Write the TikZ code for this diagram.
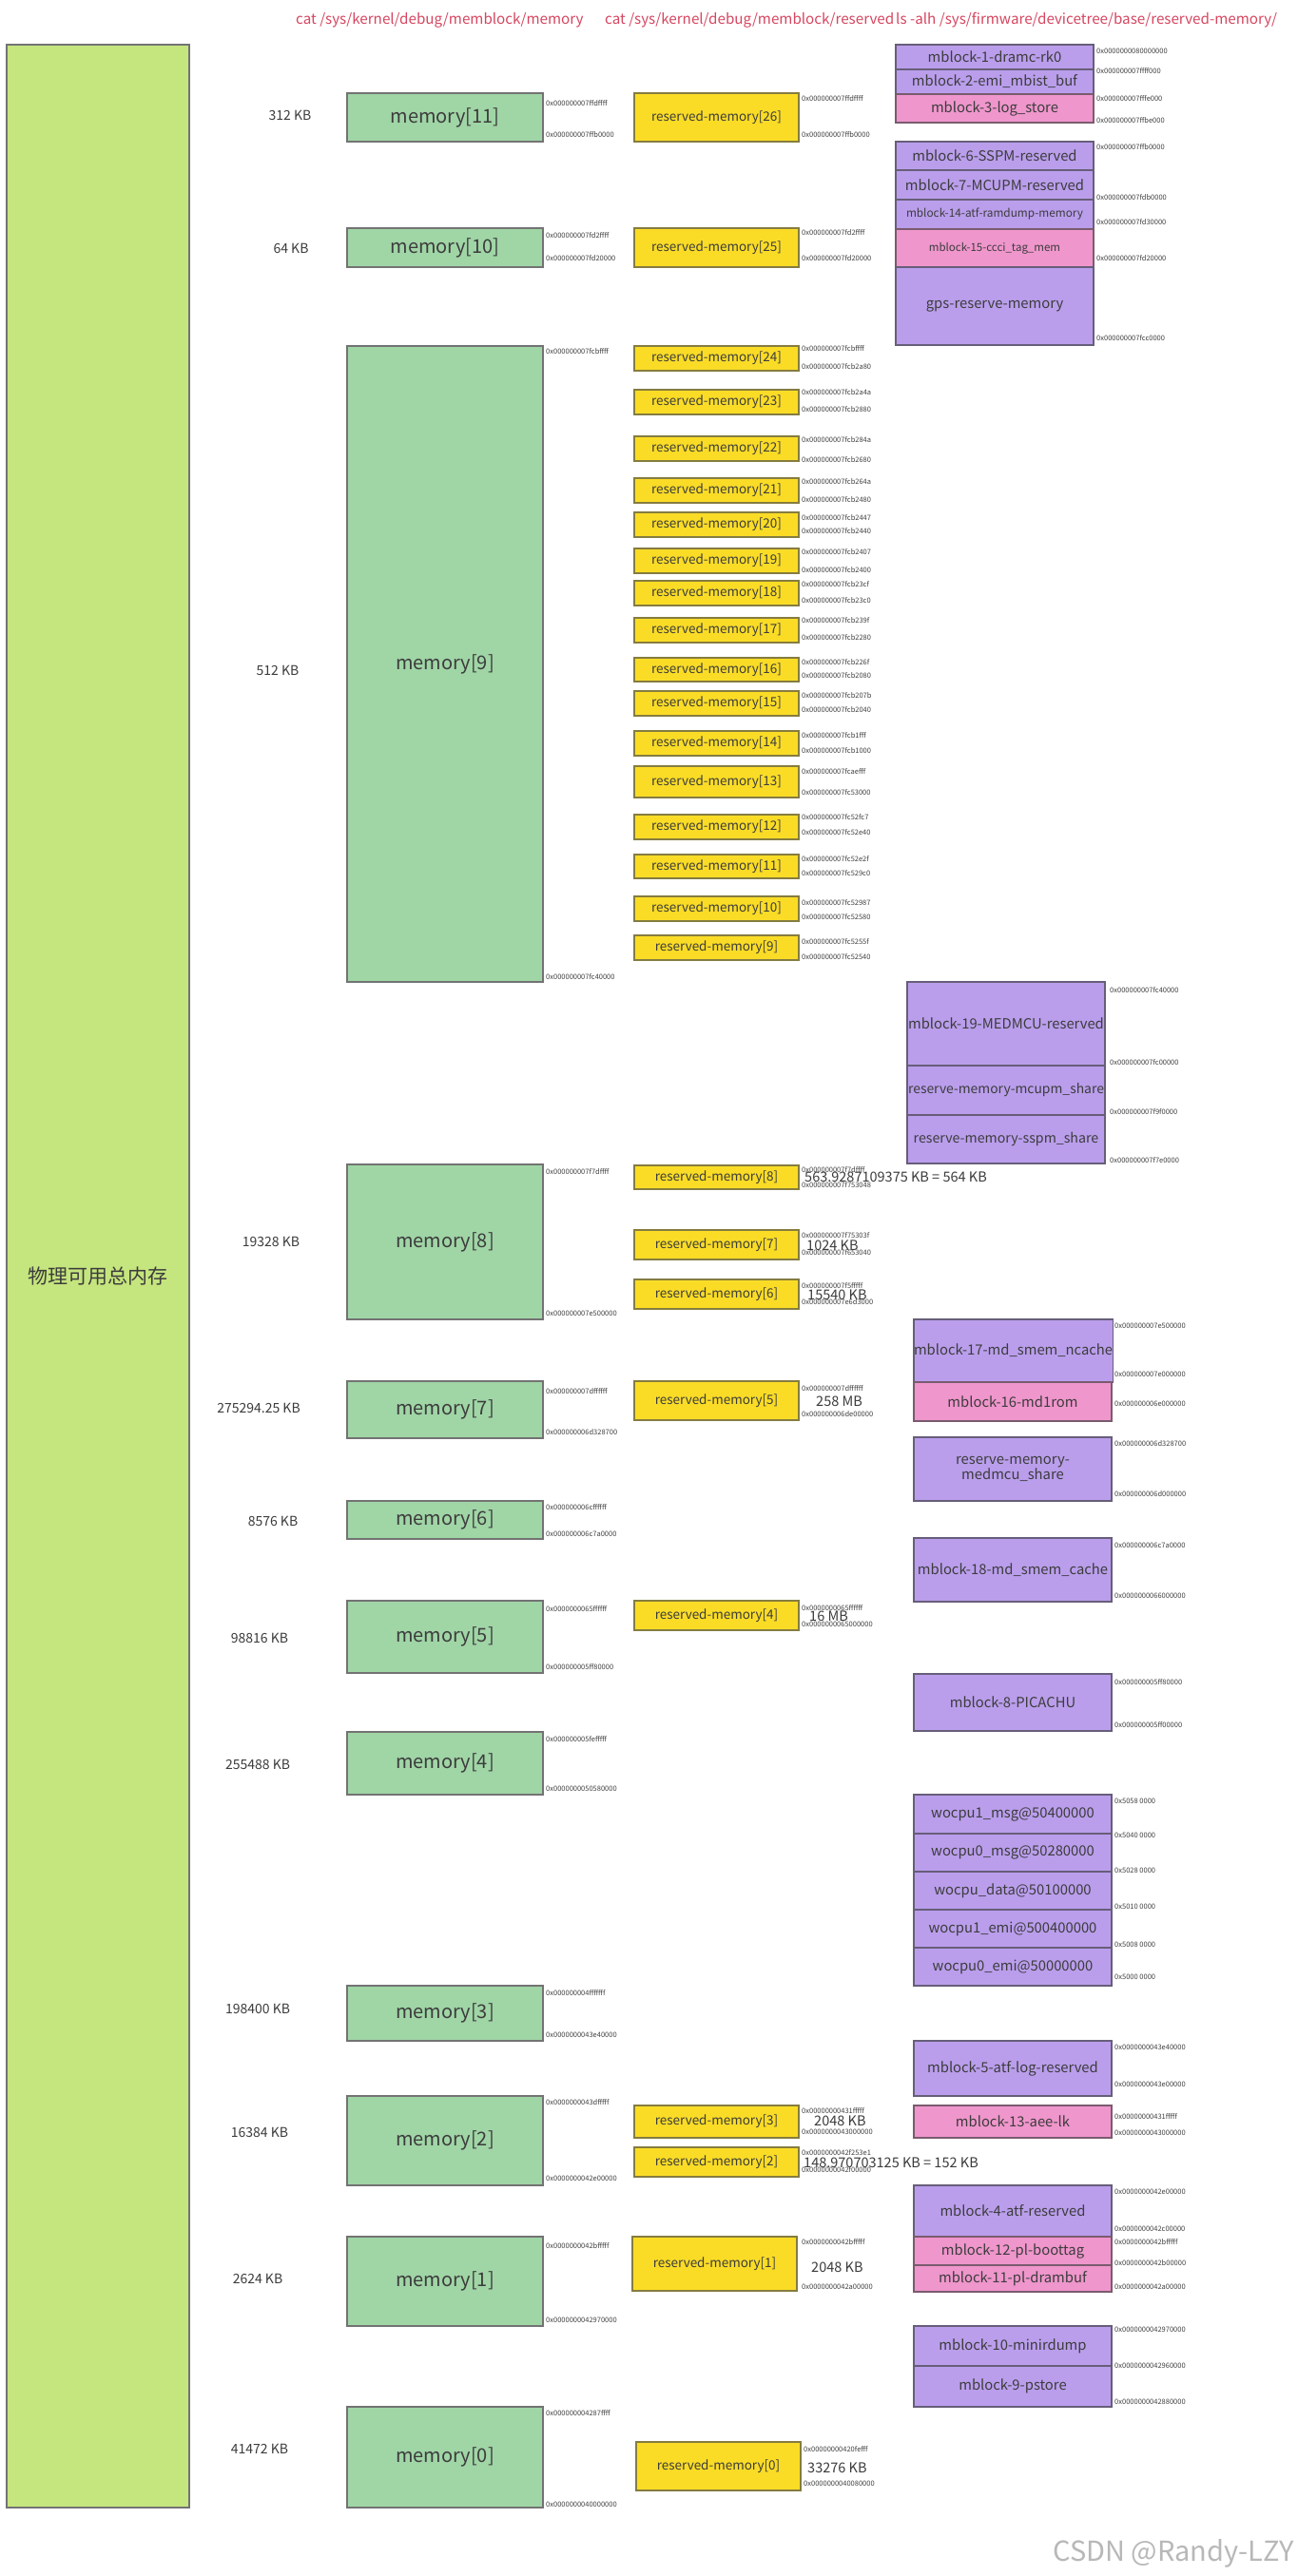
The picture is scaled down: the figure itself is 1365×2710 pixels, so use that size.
\documentclass[tikz,border=0pt]{standalone}
\usepackage{fontspec}
\setmainfont{Noto Sans CJK SC}
\definecolor{bigg}{RGB}{197,229,126}
\definecolor{memg}{RGB}{160,213,166}
\definecolor{resy}{RGB}{250,220,38}
\definecolor{purp}{RGB}{186,158,236}
\definecolor{pinkk}{RGB}{239,150,204}
\definecolor{hdr}{RGB}{214,70,96}
\definecolor{txt}{RGB}{60,60,60}
\newcounter{adr}
\newcommand\fs[1]{\fontsize{#1}{#1}\selectfont}
\newcommand\bx[7]{\node[#1,anchor=north west,minimum width={(#5-#3)*1pt},minimum height={(#6-#4)*1pt}] (#2) at (#3,#4) {#7};}
\newcommand\ad[3]{\stepcounter{adr}\node[addr] (a\theadr) at (#1,#2) {#3};}
\begin{document}
\begin{tikzpicture}[x=1pt,y=-1pt,
  base/.style={inner sep=0pt,outer sep=0pt,line width=1.3pt,text=txt,align=center},
  bigbox/.style={base,fill=bigg,draw=black!55,font=\fs{21}},
  membox/.style={base,fill=memg,draw=black!55,font=\fs{20}},
  resbox/.style={base,fill=resy,draw=black!45!resy!60!gray,font=\fs{13.5}},
  purbox/.style={base,fill=purp,draw=black!50!purp!70!gray,font=\fs{14.8}},
  pinkbox/.style={base,fill=pinkk,draw=black!50!pinkk!70!gray,font=\fs{14.8}},
  addr/.style={anchor=west,inner sep=0pt,font=\fs{7.5},text=black!75},
  kb/.style={inner sep=0pt,font=\fs{14},text=txt},
  sz/.style={anchor=west,inner sep=0pt,font=\fs{14.5},text=txt},
  head/.style={anchor=west,inner sep=0pt,font=\fs{15.2},text=hdr}]
\useasboundingbox (0,0) rectangle (1365,2710);
\fill[white] (0,0) rectangle (1365,2710);
% headers
\node[head] (h1) at (311,21) {cat /sys/kernel/debug/memblock/memory};
\node[head] (h2) at (636,21) {cat /sys/kernel/debug/memblock/reserved};
\node[head] (h3) at (942,21) {ls -alh /sys/firmware/devicetree/base/reserved-memory/};
% total
\bx{bigbox}{total}{7}{47}{199}{2638}{物理可用总内存}
% KB labels
\node[kb] (k11) at (305,121) {312 KB};
\node[kb] (k10) at (306,261) {64 KB};
\node[kb] (k9) at (292,705) {512 KB};
\node[kb] (k8) at (285,1306) {19328 KB};
\node[kb] (k7) at (272,1481) {275294.25 KB};
\node[kb] (k6) at (287,1600) {8576 KB};
\node[kb] (k5) at (273,1723) {98816 KB};
\node[kb] (k4) at (271,1856) {255488 KB};
\node[kb] (k3) at (271,2113) {198400 KB};
\node[kb] (k2) at (273,2243) {16384 KB};
\node[kb] (k1) at (271,2397) {2624 KB};
\node[kb] (k0) at (273,2576) {41472 KB};
% memory boxes
\bx{membox}{m11}{365}{98}{571}{149}{memory[11]}
\bx{membox}{m10}{365}{240}{571}{281}{memory[10]}
\bx{membox}{m9}{365}{364}{571}{1033}{memory[9]}
\bx{membox}{m8}{365}{1225}{571}{1388}{memory[8]}
\bx{membox}{m7}{365}{1453}{571}{1513}{memory[7]}
\bx{membox}{m6}{365}{1579}{571}{1619}{memory[6]}
\bx{membox}{m5}{365}{1684}{571}{1760}{memory[5]}
\bx{membox}{m4}{365}{1822}{571}{1888}{memory[4]}
\bx{membox}{m3}{365}{2089}{571}{2147}{memory[3]}
\bx{membox}{m2}{365}{2205}{571}{2299}{memory[2]}
\bx{membox}{m1}{365}{2353}{571}{2447}{memory[1]}
\bx{membox}{m0}{365}{2532}{571}{2638}{memory[0]}
% memory addresses
\ad{574}{109}{0x000000007ffdffff}\ad{574}{142}{0x000000007ffb0000}
\ad{574}{248}{0x000000007fd2ffff}\ad{574}{272}{0x000000007fd20000}
\ad{574}{370}{0x000000007fcbffff}\ad{574}{1027}{0x000000007fc40000}
\ad{574}{1232}{0x000000007f7dffff}\ad{574}{1382}{0x000000007e500000}
\ad{574}{1463}{0x000000007dffffff}\ad{574}{1507}{0x000000006d328700}
\ad{574}{1585}{0x000000006cffffff}\ad{574}{1614}{0x000000006c7a0000}
\ad{574}{1692}{0x0000000065ffffff}\ad{574}{1753}{0x000000005ff80000}
\ad{574}{1829}{0x000000005fefffff}\ad{574}{1882}{0x0000000050580000}
\ad{574}{2096}{0x000000004fffffff}\ad{574}{2141}{0x0000000043e40000}
\ad{574}{2211}{0x0000000043dfffff}\ad{574}{2292}{0x0000000042e00000}
\ad{574}{2362}{0x0000000042bfffff}\ad{574}{2441}{0x0000000042970000}
\ad{574}{2538}{0x000000004287ffff}\ad{574}{2635}{0x0000000040000000}
% reserved boxes
\bx{resbox}{r26}{667}{98}{840}{149}{reserved-memory[26]}
\bx{resbox}{r25}{667}{240}{840}{281}{reserved-memory[25]}
\bx{resbox}{r24}{667}{364}{840}{390}{reserved-memory[24]}
\bx{resbox}{r23}{667}{410}{840}{436}{reserved-memory[23]}
\bx{resbox}{r22}{667}{459}{840}{485}{reserved-memory[22]}
\bx{resbox}{r21}{667}{503}{840}{529}{reserved-memory[21]}
\bx{resbox}{r20}{667}{539}{840}{565}{reserved-memory[20]}
\bx{resbox}{r19}{667}{577}{840}{603}{reserved-memory[19]}
\bx{resbox}{r18}{667}{611}{840}{637}{reserved-memory[18]}
\bx{resbox}{r17}{667}{650}{840}{676}{reserved-memory[17]}
\bx{resbox}{r16}{667}{692}{840}{717}{reserved-memory[16]}
\bx{resbox}{r15}{667}{727}{840}{753}{reserved-memory[15]}
\bx{resbox}{r14}{667}{769}{840}{795}{reserved-memory[14]}
\bx{resbox}{r13}{667}{806}{840}{839}{reserved-memory[13]}
\bx{resbox}{r12}{667}{857}{840}{883}{reserved-memory[12]}
\bx{resbox}{r11}{667}{899}{840}{924}{reserved-memory[11]}
\bx{resbox}{r10}{667}{943}{840}{969}{reserved-memory[10]}
\bx{resbox}{r9}{667}{984}{840}{1010}{reserved-memory[9]}
\bx{resbox}{r8}{667}{1226}{840}{1251}{reserved-memory[8]}
\bx{resbox}{r7}{667}{1294}{840}{1325}{reserved-memory[7]}
\bx{resbox}{r6}{667}{1346}{840}{1377}{reserved-memory[6]}
\bx{resbox}{r5}{667}{1453}{840}{1494}{reserved-memory[5]}
\bx{resbox}{r4}{667}{1684}{840}{1715}{reserved-memory[4]}
\bx{resbox}{r3}{667}{2215}{840}{2249}{reserved-memory[3]}
\bx{resbox}{r2}{667}{2259}{840}{2290}{reserved-memory[2]}
\bx{resbox}{r1}{665}{2353}{838}{2410}{reserved-memory[1]}
\bx{resbox}{r0}{669}{2569}{842}{2620}{reserved-memory[0]}
% reserved addresses
\ad{843}{104}{0x000000007ffdffff}\ad{843}{142}{0x000000007ffb0000}
\ad{843}{245}{0x000000007fd2ffff}\ad{843}{272}{0x000000007fd20000}
\ad{843}{367}{0x000000007fcbffff}\ad{843}{386}{0x000000007fcb2a80}
\ad{843}{413}{0x000000007fcb2a4a}\ad{843}{431}{0x000000007fcb2880}
\ad{843}{463}{0x000000007fcb284a}\ad{843}{484}{0x000000007fcb2680}
\ad{843}{507}{0x000000007fcb264a}\ad{843}{526}{0x000000007fcb2480}
\ad{843}{545}{0x000000007fcb2447}\ad{843}{559}{0x000000007fcb2440}
\ad{843}{581}{0x000000007fcb2407}\ad{843}{600}{0x000000007fcb2400}
\ad{843}{615}{0x000000007fcb23cf}\ad{843}{632}{0x000000007fcb23c0}
\ad{843}{653}{0x000000007fcb239f}\ad{843}{671}{0x000000007fcb2280}
\ad{843}{697}{0x000000007fcb226f}\ad{843}{711}{0x000000007fcb2080}
\ad{843}{732}{0x000000007fcb207b}\ad{843}{747}{0x000000007fcb2040}
\ad{843}{774}{0x000000007fcb1fff}\ad{843}{790}{0x000000007fcb1000}
\ad{843}{812}{0x000000007fcaefff}\ad{843}{834}{0x000000007fc53000}
\ad{843}{860}{0x000000007fc52fc7}\ad{843}{876}{0x000000007fc52e40}
\ad{843}{903}{0x000000007fc52e2f}\ad{843}{918}{0x000000007fc529c0}
\ad{843}{949}{0x000000007fc52987}\ad{843}{964}{0x000000007fc52580}
\ad{843}{990}{0x000000007fc5255f}\ad{843}{1006}{0x000000007fc52540}
\ad{843}{1230}{0x000000007f7dffff}\ad{843}{1246}{0x000000007f753048}
\ad{843}{1299}{0x000000007f75303f}\ad{843}{1317}{0x000000007f653040}
\ad{843}{1352}{0x000000007f5fffff}\ad{843}{1370}{0x000000007e6d3000}
\ad{843}{1460}{0x000000007dffffff}\ad{843}{1488}{0x000000006de00000}
\ad{843}{1691}{0x0000000065ffffff}\ad{843}{1709}{0x0000000065000000}
\ad{843}{2220}{0x00000000431fffff}\ad{843}{2243}{0x0000000043000000}
\ad{843}{2264}{0x0000000042f253e1}\ad{843}{2282}{0x0000000042f00000}
\ad{843}{2358}{0x0000000042bfffff}\ad{843}{2406}{0x0000000042a00000}
\ad{845}{2576}{0x00000000420fefff}\ad{845}{2613}{0x0000000040080000}
% sizes
\node[sz] (s8) at (846,1238) {563.9287109375 KB = 564 KB};
\node[sz] (s7) at (848,1310) {1024 KB};
\node[sz] (s6) at (849,1362) {15540 KB};
\node[sz] (s5) at (858,1474) {258 MB};
\node[sz] (s4) at (851,1700) {16 MB};
\node[sz] (s3) at (856,2231) {2048 KB};
\node[sz] (s2) at (845,2275) {148.970703125 KB = 152 KB};
\node[sz] (s1) at (853,2385) {2048 KB};
\node[sz] (s0) at (849,2596) {33276 KB};
% purple group A
\bx{purbox}{p1}{942}{47}{1150}{73}{mblock-1-dramc-rk0}
\bx{purbox}{p2}{942}{73}{1150}{99}{mblock-2-emi\_mbist\_buf}
\bx{pinkbox}{p3}{942}{99}{1150}{129}{mblock-3-log\_store}
\ad{1153}{54}{0x0000000080000000}\ad{1153}{75}{0x000000007ffff000}
\ad{1153}{104}{0x000000007fffe000}\ad{1153}{127}{0x000000007ffbe000}
% group B
\bx{purbox}{p6}{942}{149}{1150}{179}{mblock-6-SSPM-reserved}
\bx{purbox}{p7}{942}{179}{1150}{210}{mblock-7-MCUPM-reserved}
\bx{purbox}{p14}{942}{210}{1150}{241}{\fs{11.8}mblock-14-atf-ramdump-memory}
\bx{pinkbox}{p15}{942}{241}{1150}{281}{\fs{11.5}mblock-15-ccci\_tag\_mem}
\bx{purbox}{pgps}{942}{281}{1150}{363}{gps-reserve-memory}
\ad{1153}{155}{0x000000007ffb0000}\ad{1153}{208}{0x000000007fdb0000}
\ad{1153}{234}{0x000000007fd30000}\ad{1153}{272}{0x000000007fd20000}
\ad{1153}{356}{0x000000007fcc0000}
% group C
\bx{purbox}{p19}{954}{1033}{1162}{1121}{mblock-19-MEDMCU-reserved}
\bx{purbox}{pmc}{954}{1121}{1162}{1173}{\fs{13.9}reserve-memory-mcupm\_share}
\bx{purbox}{pss}{954}{1173}{1162}{1224}{\fs{14.2}reserve-memory-sspm\_share}
\ad{1167}{1041}{0x000000007fc40000}\ad{1167}{1117}{0x000000007fc00000}
\ad{1167}{1169}{0x000000007f9f0000}\ad{1167}{1220}{0x000000007f7e0000}
% group D
\bx{purbox}{p17}{961}{1388}{1169}{1454}{mblock-17-md\_smem\_ncache}
\bx{pinkbox}{p16}{961}{1454}{1169}{1495}{mblock-16-md1rom}
\ad{1172}{1395}{0x000000007e500000}\ad{1172}{1446}{0x000000007e000000}
\ad{1172}{1477}{0x000000006e000000}
\bx{purbox}{pmed}{961}{1512}{1169}{1579}{\fontsize{14.8}{25}\selectfont reserve-memory-\\medmcu\_share}
\ad{1172}{1519}{0x000000006d328700}\ad{1172}{1572}{0x000000006d000000}
\bx{purbox}{p18}{961}{1618}{1169}{1685}{mblock-18-md\_smem\_cache}
\ad{1172}{1626}{0x000000006c7a0000}\ad{1172}{1679}{0x0000000066000000}
\bx{purbox}{p8}{961}{1761}{1169}{1821}{mblock-8-PICACHU}
\ad{1172}{1769}{0x000000005ff80000}\ad{1172}{1814}{0x000000005ff00000}
\bx{purbox}{w1}{961}{1888}{1169}{1929}{wocpu1\_msg@50400000}
\bx{purbox}{w2}{961}{1929}{1169}{1969}{wocpu0\_msg@50280000}
\bx{purbox}{w3}{961}{1969}{1169}{2009}{wocpu\_data@50100000}
\bx{purbox}{w4}{961}{2009}{1169}{2049}{wocpu1\_emi@500400000}
\bx{purbox}{w5}{961}{2049}{1169}{2089}{wocpu0\_emi@50000000}
\ad{1172}{1895}{0x5058 0000}\ad{1172}{1931}{0x5040 0000}
\ad{1172}{1968}{0x5028 0000}\ad{1172}{2006}{0x5010 0000}
\ad{1172}{2046}{0x5008 0000}\ad{1172}{2080}{0x5000 0000}
\bx{purbox}{p5}{961}{2147}{1169}{2205}{mblock-5-atf-log-reserved}
\ad{1172}{2154}{0x0000000043e40000}\ad{1172}{2193}{0x0000000043e00000}
\bx{pinkbox}{p13}{961}{2215}{1169}{2249}{mblock-13-aee-lk}
\ad{1172}{2226}{0x00000000431fffff}\ad{1172}{2244}{0x0000000043000000}
\bx{purbox}{p4}{961}{2299}{1169}{2353}{mblock-4-atf-reserved}
\bx{pinkbox}{p12}{961}{2353}{1169}{2383}{mblock-12-pl-boottag}
\bx{pinkbox}{p11}{961}{2383}{1169}{2411}{mblock-11-pl-drambuf}
\ad{1172}{2306}{0x0000000042e00000}\ad{1172}{2345}{0x0000000042c00000}
\ad{1172}{2358}{0x0000000042bfffff}\ad{1172}{2381}{0x0000000042b00000}
\ad{1172}{2406}{0x0000000042a00000}
\bx{purbox}{p10}{961}{2447}{1169}{2489}{mblock-10-minirdump}
\bx{purbox}{p9}{961}{2489}{1169}{2532}{mblock-9-pstore}
\ad{1172}{2451}{0x0000000042970000}\ad{1172}{2489}{0x0000000042960000}
\ad{1172}{2527}{0x0000000042880000}
% watermark
\node[anchor=east,inner sep=0pt,font=\fs{29},text=black!28] (wm) at (1361,2686) {CSDN @Randy-LZY};
\end{tikzpicture}
\end{document}
